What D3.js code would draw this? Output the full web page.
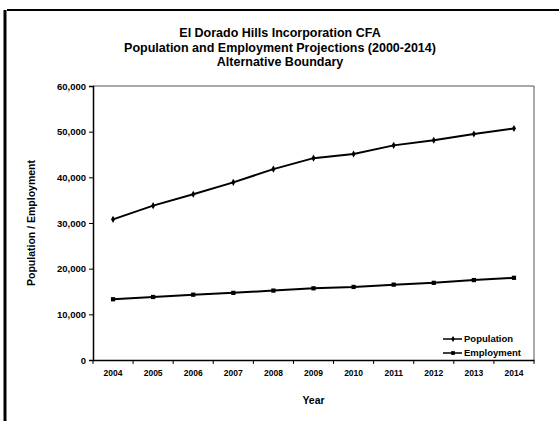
<!DOCTYPE html>
<html>
<head>
<meta charset="utf-8">
<script src="https://cdn.jsdelivr.net/npm/d3@7"></script>
<style>
  body { margin: 0; background: #fff; }
  text { font-family: "Liberation Sans", Arial, sans-serif; font-weight: bold; fill: #000; }
</style>
</head>
<body>
<section></section>
<script>
// chart data
var years = ["2004", "2005", "2006", "2007", "2008", "2009", "2010", "2011", "2012", "2013", "2014"];
var population = [30800, 33800, 36300, 38900, 41800, 44200, 45100, 47000, 48100, 49500, 50700];
var employment = [13300, 13800, 14300, 14700, 15200, 15700, 16000, 16500, 16900, 17500, 18000];
var yTicks = [0, 10000, 20000, 30000, 40000, 50000, 60000];
var titleLines = ["El Dorado Hills Incorporation CFA",
                  "Population and Employment Projections (2000-2014)",
                  "Alternative Boundary"];

var W = 559, H = 421;
var margin = {top: 86, right: 25, bottom: 61, left: 93},
  width = W - margin.left - margin.right,
  height = H - margin.top - margin.bottom;

var svg = d3.select("section").append("svg")
    .attr("width", W)
    .attr("height", H),
  g = svg.append("g")
    .attr("transform", "translate(" + margin.left + "," + margin.top + ")");

// scanned page frame
svg.append("line").attr("x1", 7).attr("x2", 559).attr("y1", 10).attr("y2", 10)
  .attr("stroke", "#000").attr("stroke-width", 2);
svg.append("line").attr("x1", 5).attr("x2", 5).attr("y1", 10).attr("y2", 421)
  .attr("stroke", "#000").attr("stroke-width", 3);

// titles
svg.selectAll(".title")
  .data(titleLines)
  .enter().append("text")
  .attr("class", "title")
  .attr("x", 280)
  .attr("y", function(d, i) { return 37 + i * 14.5; })
  .attr("text-anchor", "middle")
  .style("font-size", "12.5px")
  .text(function(d) { return d; });

// scales
var x = d3.scaleBand().domain(years).range([0, width]).padding(0);
var y = d3.scaleLinear().domain([0, 60000]).range([height, 0]);

// plot area border (top + right)
g.append("path")
  .attr("d", "M0,0H" + width + "V" + height)
  .attr("fill", "none")
  .attr("stroke", "#555")
  .attr("stroke-width", 1);

// y axis
var yAxis = g.append("g")
  .call(d3.axisLeft(y).tickValues(yTicks).tickSize(4).tickPadding(3)
    .tickFormat(d3.format(",")));
yAxis.select(".domain").attr("stroke-width", 1.5);
yAxis.selectAll("text").style("font-size", "9.5px").style("font-family", "Liberation Sans, Arial, sans-serif");

// x axis, ticks between categories
var xAxis = g.append("g")
  .attr("transform", "translate(0," + height + ")")
  .call(d3.axisBottom(x).tickSize(0).tickPadding(10));
xAxis.select(".domain").attr("stroke-width", 1.5);
xAxis.selectAll("text").style("font-size", "8.5px").style("font-family", "Liberation Sans, Arial, sans-serif");
g.selectAll(".xtick")
  .data(years.concat(["end"]))
  .enter().append("line")
  .attr("x1", function(d, i) { return i * x.bandwidth(); })
  .attr("x2", function(d, i) { return i * x.bandwidth(); })
  .attr("y1", height)
  .attr("y2", height + 4)
  .attr("stroke", "#000");

// axis titles
svg.append("text")
  .attr("transform", "translate(35," + (margin.top + height / 2) + ") rotate(-90)")
  .attr("text-anchor", "middle")
  .style("font-size", "10.5px")
  .text("Population / Employment");
svg.append("text")
  .attr("x", margin.left + width / 2)
  .attr("y", 404)
  .attr("text-anchor", "middle")
  .style("font-size", "10.5px")
  .text("Year");

// lines
var line = d3.line()
  .x(function(d, i) { return x(years[i]) + x.bandwidth() / 2; })
  .y(function(d) { return y(d); });

var series = [
  {name: "Population", values: population, marker: "diamond"},
  {name: "Employment", values: employment, marker: "square"}
];

function drawMarker(sel, kind, size) {
  if (kind === "diamond") {
    sel.append("path")
      .attr("d", d3.symbol().type(d3.symbolDiamond).size(size * 0.8))
      .attr("fill", "#000");
  } else {
    sel.append("path")
      .attr("d", d3.symbol().type(d3.symbolSquare).size(size))
      .attr("fill", "#000");
  }
}

series.forEach(function(s) {
  g.append("path")
    .datum(s.values)
    .attr("fill", "none")
    .attr("stroke", "#000")
    .attr("stroke-width", 2)
    .attr("d", line);

  g.selectAll(".m-" + s.name)
    .data(s.values)
    .enter().append("g")
    .attr("transform", function(d, i) {
      return "translate(" + (x(years[i]) + x.bandwidth() / 2) + "," + y(d) + ")"; })
    .each(function() { drawMarker(d3.select(this), s.marker, 18); });
});

// legend
var legend = g.selectAll(".legend")
  .data(series)
  .enter().append("g")
  .attr("transform", function(d, i) { return "translate(350," + (253 + i * 14) + ")"; });
legend.append("line")
  .attr("x1", 0).attr("x2", 19)
  .attr("stroke", "#000").attr("stroke-width", 1.5);
legend.append("g")
  .attr("transform", "translate(10,0)")
  .each(function(d) { drawMarker(d3.select(this), d.marker, 14); });
legend.append("text")
  .attr("x", 21)
  .attr("dy", "0.35em")
  .style("font-size", "9.5px")
  .text(function(d) { return d.name; });
</script>
</body>
</html>
